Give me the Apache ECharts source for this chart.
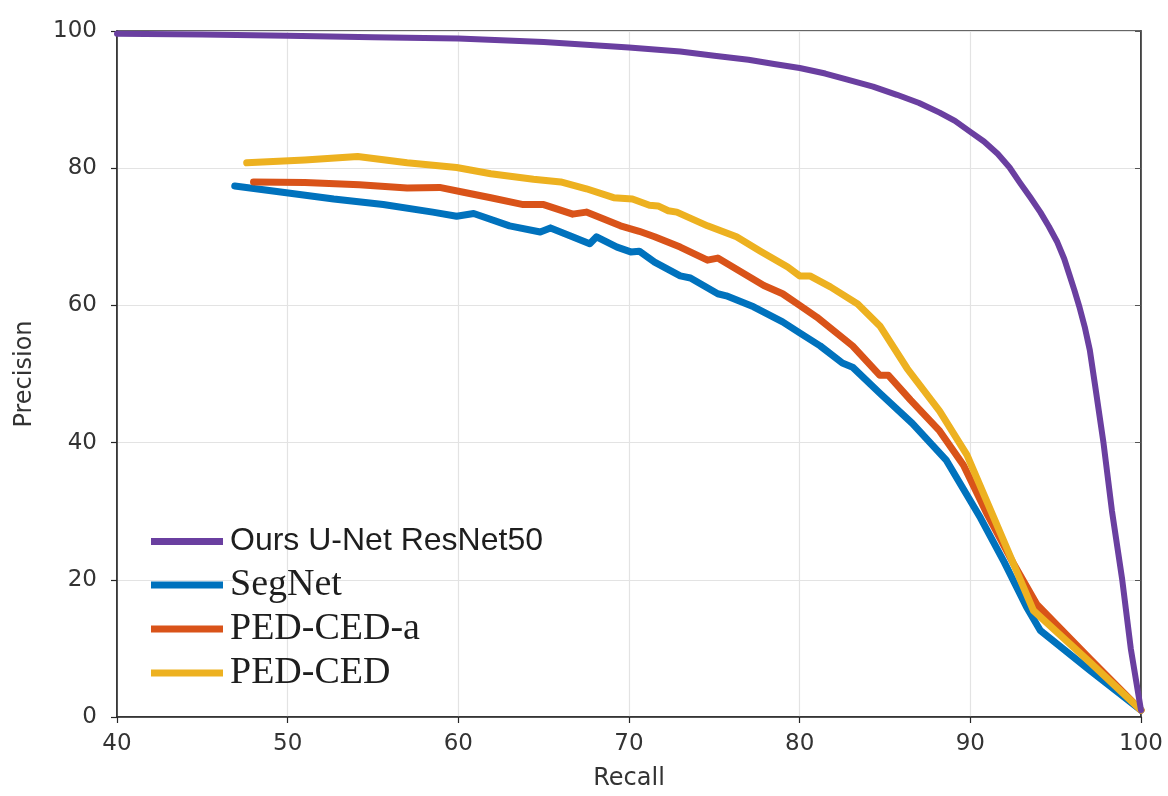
<!DOCTYPE html>
<html>
<head>
<meta charset="utf-8">
<script src="https://cdn.jsdelivr.net/npm/echarts@6/dist/echarts.min.js"></script>
<style>
html,body{margin:0;padding:0;background:#fff;}
#chart{width:1168px;height:796px;}
</style>
</head>
<body>
<div id="chart"></div>
<script>
var seriesNames = ['Ours U-Net ResNet50', 'SegNet', 'PED-CED-a', 'PED-CED'];
var xTicks = [40, 50, 60, 70, 80, 90, 100];
var yTicks = [0, 20, 40, 60, 80, 100];

var oursData = [[40,99.6],[45,99.5],[50,99.3],[55,99.1],[60,98.9],[65,98.4],[70,97.6],[73,97.0],[75,96.4],[77,95.8],[78.5,95.2],[80,94.6],[81.5,93.8],[82.8,92.9],[84.3,91.9],[85.7,90.7],[87,89.5],[88.2,88.1],[89.1,86.9],[90,85.3],[90.8,83.9],[91.6,82.1],[92.3,80.1],[92.9,77.9],[93.5,75.8],[94.1,73.6],[94.6,71.5],[95.1,69.2],[95.5,66.8],[95.8,64.5],[96.1,62.2],[96.4,59.7],[96.7,56.9],[97.0,53.5],[97.3,48.5],[97.8,40],[98.3,30],[98.9,20],[99.4,10],[100,1]];

var segnetData = [[46.9,77.4],[49.7,76.5],[52.7,75.5],[55.6,74.7],[58.5,73.6],[59.9,73.0],[60.9,73.4],[63.0,71.6],[64.8,70.7],[65.4,71.3],[66.5,70.2],[67.7,69.0],[68.1,70.0],[69.3,68.5],[70.1,67.8],[70.6,67.9],[71.5,66.3],[73.0,64.3],[73.6,64.0],[75.2,61.7],[75.7,61.4],[77.3,59.8],[79.0,57.6],[80.0,56.0],[81.2,54.1],[82.5,51.6],[83.1,51.0],[84.7,47.2],[86.6,42.8],[88.6,37.4],[90.6,29.0],[92.0,22.5],[93.3,16.0],[94.1,12.6],[97.0,6.8],[100,1]];

var pedCedAData = [[48.0,78.0],[51.0,77.9],[54.2,77.6],[57.0,77.1],[58.9,77.2],[60.3,76.5],[61.9,75.7],[63.8,74.7],[65.0,74.7],[66.7,73.3],[67.5,73.6],[69.5,71.6],[70.6,70.8],[71.5,70.0],[73.0,68.5],[74.6,66.6],[75.2,66.9],[77.9,62.9],[79.0,61.7],[80.0,60.0],[81.0,58.3],[83.1,54.1],[84.7,49.8],[85.2,49.8],[86.5,46.2],[88.2,41.7],[89.6,36.7],[91.0,29.5],[92.5,22.5],[93.9,16.4],[97.0,8.5],[100,1]];

var pedCedData = [[47.6,80.8],[51.0,81.2],[54.1,81.7],[57.0,80.8],[59.9,80.1],[61.9,79.2],[64.4,78.4],[66.0,78.0],[67.5,77.0],[69.1,75.7],[70.2,75.5],[71.2,74.6],[71.7,74.5],[72.3,73.8],[72.8,73.6],[74.6,71.6],[76.3,70.0],[77.7,67.9],[79.3,65.6],[80.0,64.3],[80.6,64.3],[81.8,62.7],[83.4,60.2],[84.7,57.0],[86.3,50.8],[88.2,44.6],[89.8,38.2],[91.3,29.5],[93.7,15.5],[97.0,8.0],[100,1]];

var colors = {
  'Ours U-Net ResNet50': '#6a3fa0',
  'SegNet': '#0072bd',
  'PED-CED-a': '#d95319',
  'PED-CED': '#edb120'
};

var chart = echarts.init(document.getElementById('chart'), null, {renderer: 'canvas'});

function lineSeries(name, data, width) {
  return {
    name: name,
    type: 'line',
    data: data,
    showSymbol: false,
    symbol: 'none',
    smooth: false,
    color: colors[name],
    lineStyle: {width: width, color: colors[name], cap: 'round', join: 'round'},
    emphasis: {disabled: true},
    z: 3
  };
}

var option = {
  backgroundColor: '#ffffff',
  animation: false,
  grid: {
    left: 117, right: 27, top: 31, bottom: 76,
    show: true, borderColor: '#333333', borderWidth: 1.5, backgroundColor: 'transparent'
  },
  legend: {
    data: seriesNames,
    orient: 'vertical',
    left: 151,
    top: 523,
    itemWidth: 72,
    itemHeight: 7,
    itemGap: 6,
    icon: 'rect',
    padding: 0,
    formatter: function (name) {
      return name === 'Ours U-Net ResNet50' ? '{s|' + name + '}' : '{r|' + name + '}';
    },
    textStyle: {
      rich: {
        s: {fontFamily: 'Liberation Sans', fontSize: 32, lineHeight: 37, height: 37, color: '#1e1e1e', padding: [0,0,0,2]},
        r: {fontFamily: 'Liberation Serif', fontSize: 38, lineHeight: 37, height: 37, color: '#1e1e1e', padding: [0,0,0,2]}
      }
    }
  },
  xAxis: {
    type: 'value',
    min: 40, max: 100, interval: 10,
    name: 'Recall',
    nameLocation: 'middle',
    nameGap: 50,
    nameTextStyle: {fontFamily: 'DejaVu Sans', fontSize: 24, color: '#333333'},
    axisLine: {show: true, onZero: false, lineStyle: {color: '#262626', width: 1.5}},
    axisTick: {show: true, inside: false, length: 6, lineStyle: {color: '#262626', width: 1.2}},
    axisLabel: {fontFamily: 'DejaVu Sans', fontSize: 23, color: '#333333', margin: 16,
      formatter: function (v) { return xTicks.indexOf(v) >= 0 ? String(v) : ''; }},
    splitLine: {show: true, lineStyle: {color: '#e3e3e3', width: 1.2}}
  },
  yAxis: [{
    type: 'value',
    min: 0, max: 100, interval: 20,
    name: 'Precision',
    nameLocation: 'middle',
    nameGap: 80,
    nameTextStyle: {fontFamily: 'DejaVu Sans', fontSize: 24, color: '#333333'},
    axisLine: {show: true, onZero: false, lineStyle: {color: '#262626', width: 1.5}},
    axisTick: {show: true, inside: false, length: 6, lineStyle: {color: '#262626', width: 1.2}},
    axisLabel: {fontFamily: 'DejaVu Sans', fontSize: 23, color: '#333333', margin: 20,
      formatter: function (v) { return yTicks.indexOf(v) >= 0 ? String(v) : ''; }},
    splitLine: {show: true, lineStyle: {color: '#e3e3e3', width: 1.2}}
  }, {
    type: 'value',
    position: 'right',
    min: 0, max: 100, interval: 20,
    axisLine: {show: true, onZero: false, lineStyle: {color: '#333333', width: 1.5}},
    axisTick: {show: true, inside: true, length: 6, lineStyle: {color: '#555555', width: 1}},
    axisLabel: {show: false},
    splitLine: {show: false}
  }],
  series: [
    lineSeries('SegNet', segnetData, 7),
    lineSeries('PED-CED-a', pedCedAData, 7),
    lineSeries('PED-CED', pedCedData, 7),
    lineSeries('Ours U-Net ResNet50', oursData, 6)
  ]
};

chart.setOption(option);
</script>
</body>
</html>
